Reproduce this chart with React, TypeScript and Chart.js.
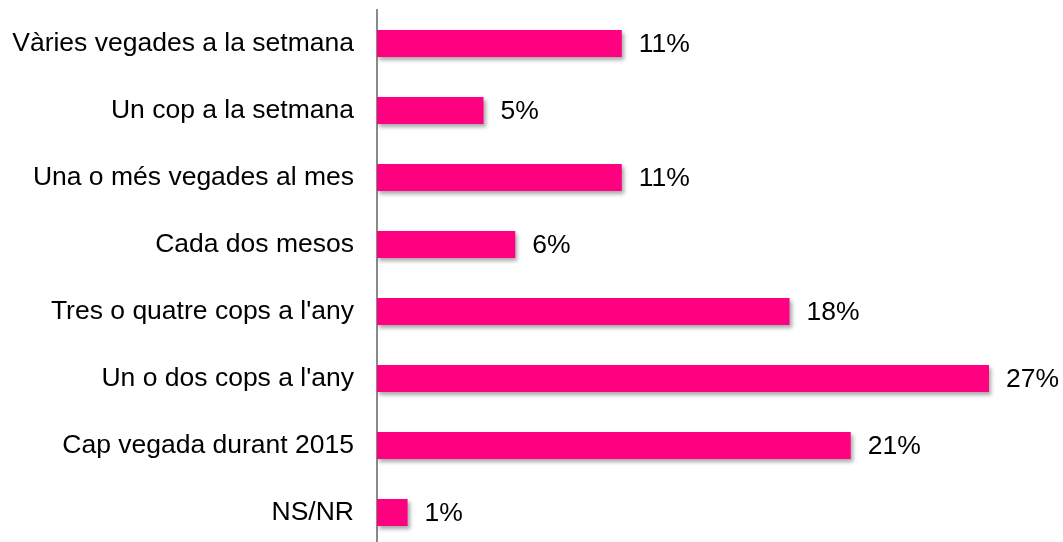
import React, { useEffect, useRef } from "react";
import { Chart, registerables } from "chart.js";

Chart.register(...registerables);

const categories = [
  "Vàries vegades a la setmana",
  "Un cop a la setmana",
  "Una o més vegades al mes",
  "Cada dos mesos",
  "Tres o quatre cops a l'any",
  "Un o dos cops a l'any",
  "Cap vegada durant 2015",
  "NS/NR",
];
const values = [10.8, 4.7, 10.8, 6.1, 18.2, 27.0, 20.9, 1.35];
const valueLabels = ["11%", "5%", "11%", "6%", "18%", "27%", "21%", "1%"];

const FONT = "'Liberation Sans', Arial, sans-serif";

export default function App() {
  const ref = useRef<HTMLCanvasElement | null>(null);
  useEffect(() => {
    if (!ref.current) return;
    const shadowPlugin = {
      id: "shadow",
      beforeDatasetDraw(chart: any) {
        const ctx = chart.ctx;
        ctx.save();
        ctx.shadowColor = "rgba(0,0,0,0.35)";
        ctx.shadowBlur = 4;
        ctx.shadowOffsetX = 2;
        ctx.shadowOffsetY = 3;
      },
      afterDatasetDraw(chart: any) {
        chart.ctx.restore();
      },
    };
    const labelPlugin = {
      id: "valueLabels",
      afterDatasetsDraw(chart: any) {
        const ctx = chart.ctx;
        const meta = chart.getDatasetMeta(0);
        ctx.save();
        ctx.font = `26.5px ${FONT}`;
        ctx.fillStyle = "#000";
        ctx.textAlign = "left";
        ctx.textBaseline = "middle";
        meta.data.forEach((el: any, i: number) => {
          ctx.fillText(valueLabels[i], el.x + 17, el.y + 1);
        });
        ctx.restore();
      },
    };
    const chart = new Chart(ref.current, {
      type: "bar",
      data: {
        labels: categories,
        datasets: [
          {
            data: values,
            backgroundColor: "#FF0080",
            borderWidth: 0,
            barPercentage: 0.403,
            categoryPercentage: 1,
          },
        ],
      },
      options: {
        indexAxis: "y",
        responsive: false,
        animation: false,
        layout: { padding: { top: 10, right: 6, left: 0, bottom: 0 } },
        plugins: {
          legend: { display: false },
          tooltip: { enabled: false },
        },
        scales: {
          x: {
            display: false,
            min: 0,
            max: 30,
          },
          y: {
            grid: { display: false, drawTicks: false },
            border: { display: true, color: "#8a8a8a", width: 2 },
            ticks: {
              color: "#000",
              padding: 23,
              font: { family: FONT, size: 26.5 },
            },
            afterFit(scale: any) {
              scale.width = 377;
              scale.paddingTop = 0;
              scale.paddingBottom = 0;
            },
          },
        },
      },
      plugins: [shadowPlugin, labelPlugin],
    });
    return () => chart.destroy();
  }, []);
  return (
    <div
      style={{
        position: "absolute",
        left: 0,
        top: 0,
        width: 1063,
        height: 542,
        overflow: "hidden",
        background: "#fff",
      }}
    >
      <canvas ref={ref} width={1063} height={546} style={{ width: 1063, height: 546, display: "block" }} />
    </div>
  );
}
